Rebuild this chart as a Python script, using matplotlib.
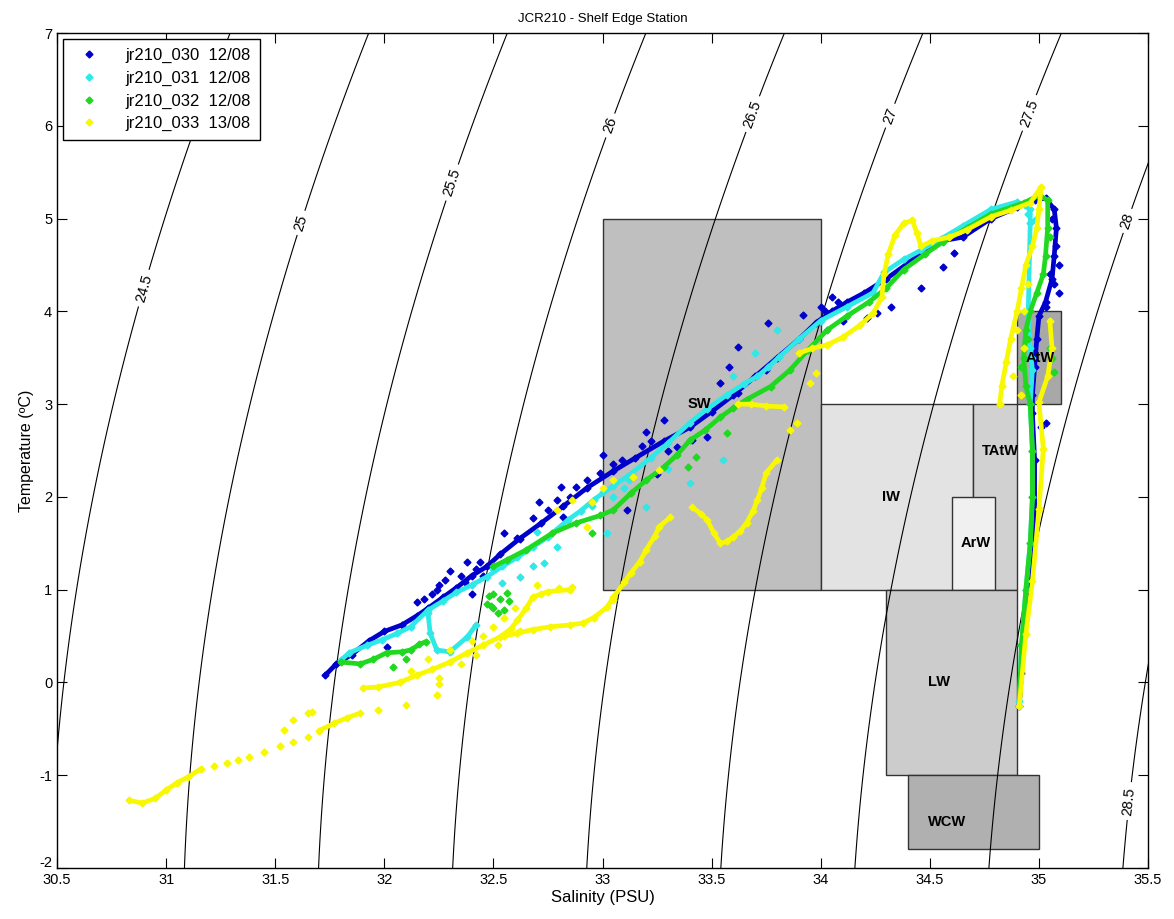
import numpy as np
import matplotlib
matplotlib.use('Agg')
import matplotlib.pyplot as plt
import matplotlib.transforms as mtransforms
from matplotlib.patches import Rectangle
from matplotlib.lines import Line2D

nan = float('nan')

# isopycnal levels (sigma-theta)
sigma_levels = [24.5, 25, 25.5, 26, 26.5, 27, 27.5, 28, 28.5]
label_pos = [(30.93, 4.23), (31.61, 4.96), (32.35, 5.36), (33.04, 6.0), (33.72, 6.1),
             (34.33, 6.1), (35.05, 6.06), (35.4, 4.98), (35.38, -1.27)]

# water mass boxes: name, S range, T range, grey level, label pos
box_names = ['SW', 'IW', 'TAtW', 'ArW', 'AtW', 'LW', 'WCW']
box_s = [(33.0, 34.0), (34.0, 34.7), (34.7, 34.9), (34.6, 34.8), (34.9, 35.1), (34.3, 34.9), (34.4, 35.0)]
box_t = [(1, 5), (1, 3), (1, 3), (1, 2), (3, 4), (-1, 1), (-1.8, -1)]
box_grey = [0.75, 0.89, 0.82, 0.94, 0.66, 0.8, 0.69]
box_label = [(33.39, 3.0), (34.28, 2.0), (34.74, 2.5), (34.64, 1.5), (34.94, 3.5), (34.49, 0.0), (34.49, -1.5)]

# jr210_030 (main trace + scattered points)
s030 = [31.73, 31.78, 31.85, 31.93, 32.0, 32.08, 32.15, 32.2, 32.27, 32.33, 32.4, 32.47, 32.53, 32.62,
        32.72, 32.82, 32.93, 33.05, 33.15, 33.28, 33.4, 33.5, 33.6, 33.7, 33.8, 33.9, 33.98, 34.05, 34.12,
        34.2, 34.3, 34.4, 34.53, 34.65, 34.78, 34.9, 34.98, 35.03, 35.07, 35.08, 35.07, 35.06, 35.03, 35.0,
        34.99, 34.98, 34.97, 34.97, 34.98, 34.98, 34.97, 34.95, 34.93, 34.92, 34.91]
t030 = [0.08, 0.2, 0.3, 0.45, 0.55, 0.62, 0.72, 0.8, 0.92, 1.02, 1.15, 1.25, 1.38, 1.55,
        1.72, 1.9, 2.1, 2.28, 2.42, 2.6, 2.75, 2.92, 3.1, 3.3, 3.5, 3.7, 3.88, 4.0, 4.1,
        4.2, 4.35, 4.52, 4.75, 4.8, 5.0, 5.12, 5.2, 5.22, 5.1, 4.9, 4.6, 4.35, 4.1, 3.95,
        3.7, 3.4, 3.1, 2.9, 2.4, 1.9, 1.5, 1.0, 0.5, 0.1, -0.25]
s030_x = [32.15, 32.55, 32.61, 32.68, 32.71, 32.79, 32.81, 32.88, 32.93, 32.85, 32.75, 32.82, 31.93, 32.01,
          33.09, 32.99, 33.11, 33.28, 33.34, 33.41, 33.48, 33.54, 33.62, 33.58, 33.62, 33.75, 33.76, 33.92,
          34.21, 34.26, 34.32, 34.46, 34.56, 34.61, 35.06, 35.08, 35.09, 35.05, 35.07, 35.09, 35.03, 35.01,
          35.03, 32.25, 32.3, 32.38, 32.45, 32.4, 32.22, 33.2, 33.0, 33.25, 34.05, 34.1, 34.0,
          32.28, 32.35, 32.42, 32.18, 32.31, 32.37, 32.44, 32.24, 33.18, 33.22, 33.3, 33.05, 34.08, 34.02]
t030_x = [0.87, 1.61, 1.56, 1.77, 1.94, 1.97, 2.11, 2.11, 2.18, 2.0, 1.86, 1.78, 0.43, 0.38,
          2.4, 2.26, 1.86, 2.83, 2.54, 2.61, 2.65, 3.23, 3.12, 3.4, 3.62, 3.37, 3.87, 3.96,
          3.93, 3.98, 4.05, 4.25, 4.48, 4.63, 5.0, 4.7, 4.5, 4.4, 4.3, 4.2, 4.05, 2.75,
          2.8, 1.05, 1.2, 1.3, 1.15, 0.95, 0.95, 2.7, 2.45, 2.25, 4.15, 3.9, 4.05,
          1.1, 1.15, 1.22, 0.9, 0.98, 1.08, 1.3, 1.0, 2.55, 2.6, 2.5, 2.35, 4.1, 4.0]

# jr210_031
s031 = [31.8, 31.84, 31.92, 31.99, 32.06, 32.12, 32.2, 32.27, 32.33, 32.4, 32.47, 32.54, 32.61, 32.68,
        32.75, 32.84, 32.9, 32.96, 33.05, 33.13, 33.22, 33.3, 33.4, 33.48, 33.57, 33.65, 33.71, 33.76,
        33.81, 33.9, 34.0, 34.12, 34.24, 34.29, 34.38, 34.46, 34.55, 34.65, 34.78, 34.9, 34.96, 34.96,
        34.95, 34.96, 34.97, 34.96, 34.97, 34.97, 34.96, 34.94, 34.92, 34.91, nan,
        32.2, 32.21, 32.24, 32.3, 32.38, 32.42]
t031 = [0.24, 0.32, 0.4, 0.46, 0.53, 0.6, 0.78, 0.88, 0.97, 1.05, 1.14, 1.25, 1.35, 1.46,
        1.57, 1.75, 1.85, 1.97, 2.12, 2.25, 2.42, 2.58, 2.8, 2.95, 3.1, 3.22, 3.3, 3.4,
        3.51, 3.7, 3.9, 4.05, 4.2, 4.42, 4.56, 4.66, 4.78, 4.92, 5.1, 5.18, 5.1, 4.95,
        3.9, 3.6, 3.37, 3.0, 2.5, 2.0, 1.5, 1.0, 0.4, -0.2, nan,
        0.75, 0.53, 0.35, 0.33, 0.49, 0.62]
s031_x = [32.68, 32.73, 32.62, 32.54, 32.79, 33.55, 33.4, 33.2, 33.02, 33.8, 33.05, 33.1, 33.0, 32.95,
          33.12, 32.5, 32.7, 33.3, 33.6, 33.7, 34.95, 34.97, 34.95, 34.98]
t031_x = [1.25, 1.29, 1.14, 1.07, 1.46, 2.4, 2.15, 1.89, 1.61, 3.8, 2.0, 2.1, 2.05, 1.9,
          2.18, 1.22, 1.62, 2.3, 3.3, 3.55, 3.75, 3.5, 5.05, 4.98]

# jr210_032
s032 = [31.8, 31.89, 31.95, 32.01, 32.08, 32.12, 32.16, 32.19, nan,
        32.5, 32.56, 32.65, 32.77, 32.88, 32.99, 33.05, 33.13, 33.2, 33.28, 33.34, 33.4, 33.47, 33.54,
        33.6, 33.66, 33.77, 33.86, 33.94, 34.03, 34.12, 34.22, 34.3, 34.38, 34.48, 34.56, 34.67, 34.78,
        34.93, 35.0, 35.04, 35.04, 35.03, 35.02, 34.99, 34.96, 34.94, 34.93, 34.94, 34.96, 34.97, 34.97,
        34.96, 34.94, 34.92, 34.91]
t032 = [0.22, 0.2, 0.25, 0.32, 0.33, 0.35, 0.41, 0.44, nan,
        1.25, 1.32, 1.43, 1.61, 1.72, 1.8, 1.86, 2.04, 2.18, 2.32, 2.45, 2.61, 2.72, 2.86,
        2.96, 3.05, 3.19, 3.37, 3.58, 3.8, 3.95, 4.1, 4.25, 4.45, 4.62, 4.75, 4.9, 5.05,
        5.17, 5.25, 5.2, 4.9, 4.6, 4.4, 4.2, 4.0, 3.8, 3.5, 3.2, 3.0, 2.5, 2.0,
        1.5, 1.0, 0.4, -0.25]
s032_x = [32.47, 32.5, 32.53, 32.55, 32.5, 32.57, 32.48, 32.52, 32.49, 32.56, 32.04, 32.1, 33.43, 33.57,
          33.39, 35.06, 35.07, 35.05, 32.95, 34.92, 34.95, 35.05]
t032_x = [0.85, 0.8, 0.9, 0.78, 0.95, 0.88, 0.93, 0.75, 0.82, 0.96, 0.17, 0.25, 2.43, 2.69,
          2.32, 3.5, 3.35, 3.6, 1.61, 3.4, 3.7, 4.8]

# jr210_033
s033 = [30.83, 30.89, 30.95, 31.0, 31.05, 31.1, 31.16, nan,
        31.7, 31.77, 31.83, 31.89, nan,
        31.9, 31.97, 32.07, 32.15, 32.22, 32.3, 32.38, 32.45, 32.53, 32.58, 32.61, 32.65, 32.68, 32.75, 32.85, nan,
        32.55, 32.61, 32.68, 32.76, 32.85, 32.91, 32.96, 33.02, 33.05, 33.1, 33.13, 33.17, 33.2, 33.24, 33.26,
        33.31, nan,
        33.41, 33.45, 33.48, 33.51, 33.54, 33.57, 33.6, 33.63, 33.66, 33.69, 33.71, 33.73, 33.75, 33.8, nan,
        33.62, 33.68, 33.75, 33.83, nan,
        33.9, 33.96, 34.03, 34.1, 34.18, 34.24, 34.28, 34.29, 34.31, 34.34, 34.38, 34.42, 34.44, 34.46, 34.51,
        34.59, 34.67, 34.78, 34.87, 34.96, 35.01, 35.0, 34.99, 34.97, 34.94, 34.92, 34.9, 34.87, 34.85, 34.83,
        34.82, nan,
        35.05, 35.06, 35.04, 35.0, 35.02, 35.0, 34.97, 34.94, 34.91]
t033 = [-1.27, -1.3, -1.25, -1.16, -1.08, -1.02, -0.93, nan,
        -0.52, -0.44, -0.38, -0.33, nan,
        -0.06, -0.05, 0.0, 0.08, 0.14, 0.22, 0.32, 0.4, 0.49, 0.58, 0.67, 0.8, 0.92, 0.98, 1.0, nan,
        0.5, 0.53, 0.57, 0.6, 0.62, 0.64, 0.7, 0.81, 0.92, 1.08, 1.18, 1.3, 1.43, 1.58, 1.68,
        1.78, nan,
        1.89, 1.82, 1.75, 1.61, 1.5, 1.52, 1.57, 1.63, 1.72, 1.85, 1.97, 2.1, 2.26, 2.4, nan,
        3.0, 3.0, 2.98, 2.97, nan,
        3.55, 3.6, 3.64, 3.72, 3.85, 3.98, 4.15, 4.4, 4.62, 4.82, 4.95, 4.98, 4.85, 4.7, 4.76,
        4.8, 4.88, 5.02, 5.09, 5.17, 5.34, 5.1, 4.9, 4.7, 4.5, 4.25, 4.0, 3.7, 3.45, 3.2,
        3.0, nan,
        3.9, 3.6, 3.3, 3.02, 2.52, 1.87, 1.09, 0.52, -0.25]
s033_x = [31.22, 31.28, 31.33, 31.38, 31.45, 31.52, 31.58, 31.65, 31.54, 31.58, 31.65, 31.67, 31.97, 32.1,
          32.24, 32.79, 32.86, 32.93, 32.86, 33.05, 33.05, 33.14, 33.26, 32.25, 32.25, 33.86, 33.89, 33.95,
          33.98, 32.95, 33.0, 34.9, 34.93, 34.88, 34.92, 34.95, 34.93, 32.7, 32.8, 32.72,
          32.3, 32.4, 32.5, 32.45, 32.55, 32.6, 32.35, 32.42, 32.52, 32.62, 32.2, 32.12]
t033_x = [-0.9, -0.87, -0.84, -0.8, -0.75, -0.69, -0.64, -0.59, -0.51, -0.4, -0.33, -0.32, -0.3, -0.24,
          -0.13, 1.86, 1.97, 1.68, 1.03, 0.89, 2.18, 2.22, 2.29, 0.05, -0.02, 2.72, 2.8, 3.23,
          3.34, 1.95, 2.1, 3.8, 3.6, 3.3, 3.1, 4.3, 4.0, 1.05, 1.02, 0.95,
          0.35, 0.45, 0.6, 0.5, 0.7, 0.8, 0.2, 0.3, 0.4, 0.55, 0.25, 0.12]

casts = ['jr210_030  12/08', 'jr210_031  12/08', 'jr210_032  12/08', 'jr210_033  13/08']
colors = ['#0000CC', '#2FE8E8', '#1FD81F', '#F8F800']


def sigma0(S, T):
    """UNESCO EOS-80 density at surface pressure, minus 1000"""
    rho_w = (999.842594 + 6.793952e-2 * T - 9.095290e-3 * T**2 + 1.001685e-4 * T**3
             - 1.120083e-6 * T**4 + 6.536332e-9 * T**5)
    A = 8.24493e-1 - 4.0899e-3 * T + 7.6438e-5 * T**2 - 8.2467e-7 * T**3 + 5.3875e-9 * T**4
    B = -5.72466e-3 + 1.0227e-4 * T - 1.6546e-6 * T**2
    C = 4.8314e-4
    return rho_w + A * S + B * S**1.5 + C * S**2 - 1000


plt.rcParams['font.family'] = ['Liberation Sans', 'DejaVu Sans']
plt.rcParams['axes.unicode_minus'] = False

fig = plt.figure(figsize=(11.74, 9.19), dpi=100)
ax = fig.add_axes([0.0486, 0.0555, 0.9293, 0.9085])

# water mass boxes
for name, (s0, s1), (t0, t1), g, (lx, ly) in zip(box_names, box_s, box_t, box_grey, box_label):
    ax.add_patch(Rectangle((s0, t0), s1 - s0, t1 - t0, facecolor=str(g), edgecolor='#333333',
                           linewidth=1.0, zorder=1))
    ax.text(lx, ly, name, fontsize=10.5, fontweight='bold', ha='left', va='center', zorder=6)

# density contours
ss, tt = np.meshgrid(np.linspace(30.3, 35.7, 300), np.linspace(-2.2, 7.2, 300))
cs = ax.contour(ss, tt, sigma0(ss, tt), levels=sigma_levels, colors='k', linewidths=0.8, zorder=2)
ax.clabel(cs, fmt='%g', fontsize=10.5, inline=True, inline_spacing=4, manual=label_pos)

# CTD casts
traces = [(s030, t030, s030_x, t030_x), (s031, t031, s031_x, t031_x),
          (s032, t032, s032_x, t032_x), (s033, t033, s033_x, t033_x)]
for (s, t, sx, tx), c in zip(traces, colors):
    ax.plot(s, t, '-', color=c, linewidth=3.4, solid_capstyle='round', zorder=3)
    ax.plot(s, t, 'D', color=c, markersize=3.5, zorder=3)
    ax.plot(sx, tx, 'D', color=c, markersize=3.5, linestyle='none', zorder=3)

ax.set_xlim(30.5, 35.5)
ax.set_ylim(-2, 7)
ax.set_xticks(np.arange(30.5, 35.51, 0.5))
ax.set_xticklabels(['30.5', '31', '31.5', '32', '32.5', '33', '33.5', '34', '34.5', '35', '35.5'])
ax.set_yticks(range(-2, 8))
ax.tick_params(direction='in', top=True, right=True, length=7, labelsize=10.5)
for sp in ax.spines.values():
    sp.set_linewidth(1.0)

# raise the lowest y label a little, as in the original
lab = ax.get_yticklabels()[0]
lab.set_transform(lab.get_transform() + mtransforms.ScaledTranslation(0, 6 / 100, fig.dpi_scale_trans))

ax.set_xlabel('Salinity (PSU)', fontsize=12, labelpad=2)
ax.set_ylabel('Temperature (ºC)', fontsize=11.5, labelpad=4)
ax.set_title('JCR210 - Shelf Edge Station', fontsize=9.5, pad=8)

handles = [Line2D([], [], marker='D', color=c, linestyle='none', markersize=3.5) for c in colors]
leg = ax.legend(handles, casts, loc='upper left', fontsize=12, fancybox=False, framealpha=1,
                edgecolor='k', borderaxespad=0.35, handletextpad=1.2, labelspacing=0.45,
                borderpad=0.55)
leg.get_frame().set_linewidth(1.0)
leg.set_zorder(10)

fig.savefig('out.png', dpi=100)
